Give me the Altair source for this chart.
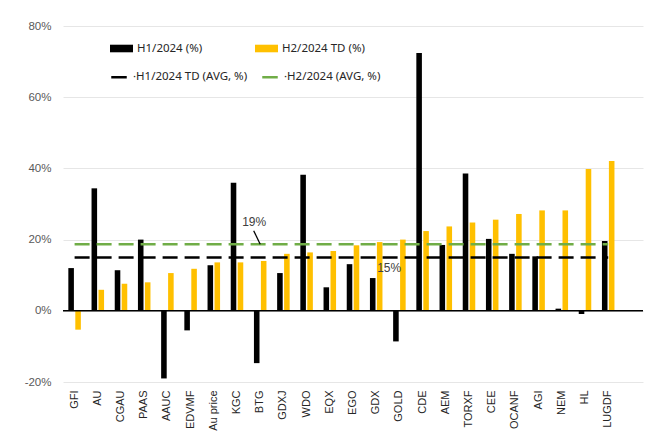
import altair as alt
import pandas as pd

categories = ["GFI", "AU", "CGAU", "PAAS", "AAUC", "EDVMF", "Au price", "KGC", "BTG",
              "GDXJ", "WDO", "EQX", "EGO", "GDX", "GOLD", "CDE", "AEM", "TORXF", "CEE",
              "OCANF", "AGI", "NEM", "HL", "LUGDF"]
h1_values = [12.0, 34.4, 11.4, 20.0, -19.0, -5.5, 12.8, 36.0, -14.7, 10.6, 38.2, 6.6, 13.1,
             9.2, -8.6, 72.4, 18.5, 38.6, 20.2, 16.0, 15.3, 0.6, -0.9, 19.6]
h2_values = [-5.3, 5.9, 7.6, 8.0, 10.6, 11.8, 13.6, 13.6, 14.0, 16.0, 16.4, 16.8, 18.4,
             19.3, 20.0, 22.4, 23.7, 24.8, 25.6, 27.2, 28.2, 28.2, 39.8, 42.1]
bar_series = ["H1/2024 (%)", "H2/2024 TD (%)"]
bar_colors = ["#000000", "#FFC000"]
avg_series = ["H1/2024 TD (AVG, %)", "H2/2024 (AVG, %)"]
avg_values = [15.0, 18.7]
avg_colors = ["#000000", "#70AD47"]
y_ticks = [-20, 0, 20, 40, 60, 80]

# annotations: text, anchor category, y value, pixel nudge
ann_text = ["19%", "15%"]
ann_cat = ["BTG", "GDX"]
ann_y = [25.0, 12.1]
ann_dx = [-6, 13]
leader_cat = "BTG"
leader_y = [22.5, 18.7]

x_domain = categories + ["_"]

bars = pd.DataFrame(
    [{"cat": c, "series": bar_series[0], "value": v} for c, v in zip(categories, h1_values)]
    + [{"cat": c, "series": bar_series[1], "value": v} for c, v in zip(categories, h2_values)]
)
avgs = pd.DataFrame(
    [{"cat": c, "series": s, "value": v} for s, v in zip(avg_series, avg_values) for c in categories]
)

x_scale = alt.Scale(domain=x_domain, paddingInner=0.46, paddingOuter=0.23)
x_axis = alt.Axis(
    title=None, labelAngle=-90, labelAlign="right", labelBaseline="middle",
    labelPadding=8, ticks=False, domain=False, grid=False,
    labelFont="Liberation Sans", labelFontSize=11, labelColor="#262626",
    labelExpr="datum.value == '_' ? '' : datum.label",
)
y_scale = alt.Scale(domain=[-20, 80], nice=False, zero=False)
y_axis = alt.Axis(
    title=None, values=y_ticks, labelExpr="datum.value + '%'", ticks=False, domain=False,
    grid=True, gridColor="#e6e6e6", gridWidth=1, labelPadding=12,
    labelFont="Liberation Sans", labelFontSize=11.5, labelColor="#595959",
)

bar_layer = alt.Chart(bars).mark_bar().encode(
    x=alt.X("cat:N", scale=x_scale, axis=x_axis, sort=x_domain),
    xOffset=alt.XOffset("series:N", scale=alt.Scale(domain=bar_series, paddingInner=0.2, paddingOuter=0)),
    y=alt.Y("value:Q", scale=y_scale, axis=y_axis),
    fill=alt.Fill(
        "series:N",
        scale=alt.Scale(domain=bar_series, range=bar_colors),
        legend=alt.Legend(
            title=None, orient="none", legendX=47, legendY=11, direction="horizontal",
            columns=2, columnPadding=52, padding=0,
            symbolType="M-1,-0.33H1V0.33H-1Z", symbolSize=529, symbolStrokeWidth=0,
            labelFont="Noto Sans", labelFontSize=11.5, labelColor="#262626", labelOffset=4,
        ),
    ),
)

zero_rule = alt.Chart(pd.DataFrame({"y": [0]})).mark_rule(color="#000000", strokeWidth=1.5).encode(
    y=alt.Y("y:Q", scale=y_scale)
)

line_layer = alt.Chart(avgs).mark_line(strokeDash=[15, 7], strokeWidth=2.5).encode(
    x=alt.X("cat:N", scale=x_scale, sort=x_domain),
    y=alt.Y("value:Q", scale=y_scale),
    stroke=alt.Stroke(
        "series:N",
        scale=alt.Scale(domain=avg_series, range=avg_colors),
        legend=alt.Legend(
            title=None, orient="none", legendX=47, legendY=42, direction="horizontal",
            columns=2, columnPadding=9, padding=0,
            symbolType="stroke", symbolSize=240, symbolStrokeWidth=2.5, symbolDash=[20, 0],
            labelFont="Noto Sans", labelFontSize=11.5, labelColor="#262626", labelOffset=5,
            labelExpr="'·' + datum.label",
        ),
    ),
)

ann_layers = []
for t, c, yv, dx in zip(ann_text, ann_cat, ann_y, ann_dx):
    ann_layers.append(
        alt.Chart(pd.DataFrame({"text": [t], "cat": [c], "y": [yv]})).mark_text(
            font="Liberation Sans", fontSize=12, color="#404040", dx=dx, baseline="middle"
        ).encode(
            x=alt.X("cat:N", scale=x_scale, sort=x_domain),
            y=alt.Y("y:Q", scale=y_scale),
            text="text:N",
        )
    )

leader = alt.Chart(pd.DataFrame({"cat": [leader_cat], "y": [leader_y[0]], "y2": [leader_y[1]]})).mark_rule(
    color="#000000", strokeWidth=1.3, xOffset=-6.5, x2Offset=0
).encode(
    x=alt.X("cat:N", scale=x_scale, sort=x_domain),
    x2="cat:N",
    y=alt.Y("y:Q", scale=y_scale),
    y2="y2:Q",
)

chart = alt.layer(bar_layer, zero_rule, line_layer, leader, *ann_layers).resolve_scale(
    fill="independent", stroke="independent"
).properties(
    width=580, height=356,
    padding={"left": 55, "top": 18, "right": 8, "bottom": 50},
    autosize=alt.AutoSizeParams(type="none"),
    background="white",
).configure_view(stroke=None)

chart.save("out.html", embed_options={"renderer": "svg", "actions": False})
